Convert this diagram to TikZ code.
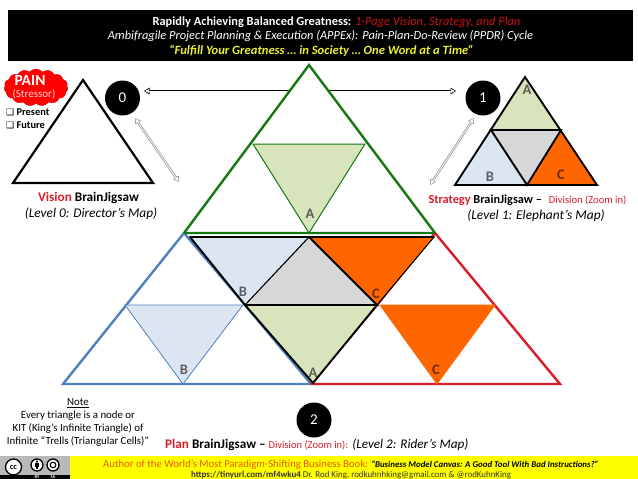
\documentclass[tikz,border=0pt]{standalone}
\usepackage{fontspec}
\setmainfont{Carlito}
\newfontfamily\sym{DejaVu Sans}
\usetikzlibrary{arrows.meta,shapes.symbols,calc}
\definecolor{hgreen}{RGB}{20,120,20}
\definecolor{lgreen}{RGB}{215,228,188}
\definecolor{lblue}{RGB}{220,230,242}
\definecolor{mblue}{RGB}{79,129,189}
\definecolor{orng}{RGB}{255,102,0}
\definecolor{gry}{RGB}{215,215,215}
\definecolor{rd}{RGB}{215,30,40}
\definecolor{yel}{RGB}{255,255,0}
\definecolor{hy}{RGB}{235,240,50}
\definecolor{hr}{RGB}{200,20,20}
\tikzset{
 x=1pt,y=-1pt,
 txt/.style={inner sep=0pt,align=center},
 tl/.style={txt,text=black,text opacity=.58,font=\fontsize{14.5}{14.5}\selectfont\bfseries},
 num/.style={circle,fill=black,minimum size=35pt,inner sep=0pt,text=white,font=\fontsize{15}{15}\selectfont},
 big/.style={line width=2.4pt,line join=miter},
 thk/.style={line width=1.9pt,line cap=round},
 thn/.style={line width=1.1pt,line cap=round},
 arrowout/.style={line width=2.4pt,draw=#1,{Triangle[length=5.5pt,width=6.5pt]}-{Triangle[length=5.5pt,width=6.5pt]}},
 arrowin/.style={line width=.7pt,draw=#1,shorten >=1.2pt,shorten <=1.2pt,{Triangle[length=3.6pt,width=3.6pt]}-{Triangle[length=3.6pt,width=3.6pt]}},
 ic/.style={circle,draw=black,fill=white,line width=1.3pt,inner sep=0pt},
}
\begin{document}
\begin{tikzpicture}
\useasboundingbox (0,0) rectangle (638,479);
\fill[white] (0,0) rectangle (638,479);
% header
\node[fill=black,minimum width=625pt,minimum height=51pt,inner sep=0pt,anchor=north west] (hdr) at (8,10) {};
\node[txt,text=white,font=\fontsize{12.4}{12.4}\selectfont] (h1) at (336.5,22.5) {\textbf{Rapidly Achieving Balanced Greatness:} \textcolor{hr}{\textit{1-Page Vision, Strategy, and Plan}}};
\node[txt,text=white,font=\fontsize{12.4}{12.4}\selectfont\itshape] (h2) at (320.5,36.5) {Ambifragile Project Planning \& Execution (APPEx): Pain-Plan-Do-Review (PPDR) Cycle};
\node[txt,text=hy,font=\fontsize{12.6}{12.6}\selectfont\bfseries\itshape] (h3) at (321.5,51) {“Fulfill Your Greatness … in Society … One Word at a Time”};
% long arrow behind the triangle
\coordinate (a0) at (144,91); \coordinate (a1) at (456,91);
\draw[arrowout=black] (a0) -- (a1);
\draw[arrowin=white] (a0) -- (a1);
% plan triangles
\coordinate (T) at (309,65); \coordinate (L) at (184,233); \coordinate (R) at (435,233); \coordinate (M) at (309,233);
\coordinate (BL) at (63,384); \coordinate (BM) at (183,384); \coordinate (BA) at (311,384);
\coordinate (RM) at (437,384); \coordinate (RR) at (560,384);
% green
\draw[hgreen,big,fill=white] (T) -- (R) -- (L) -- cycle;
\draw[hgreen,line width=1pt,fill=lgreen] (253,144) -- (365,144) -- (M) -- cycle;
% blue
\draw[mblue,big] (L) -- (BL) -- (BA);
\draw[mblue,big] (L) -- (245,305) -- (BA);
\draw[mblue,line width=.8pt,fill=lblue] (125,305) -- (243,305) -- (BM) -- cycle;
% red
\draw[rd,big] (R) -- (RR) -- (BA);
\draw[rd,big] (R) -- (377,305) -- (BA);
\draw[orng,line width=.8pt,fill=orng] (380,305) -- (495,305) -- (RM) -- cycle;
% centre jigsaw
\coordinate (c1) at (190,237); \coordinate (c2) at (309,237); \coordinate (c3) at (434,237);
\coordinate (c4) at (245,305); \coordinate (c5) at (377,305); \coordinate (c6) at (313,383);
\fill[lblue] (c1) -- (c2) -- (c4) -- cycle;
\fill[gry] (c2) -- (c5) -- (c4) -- cycle;
\fill[orng] (c2) -- (c3) -- (c5) -- cycle;
\fill[lgreen] (c4) -- (c5) -- (c6) -- cycle;
\draw[black,thk] (c1) -- (c3);
\draw[black,thk] (c1) -- (c4) -- (c5) -- (c2);
\draw[black,thk] (c4) -- (c6) -- (c5);
\draw[black,thn] (c2) -- (c4);
\draw[black,thn] (c3) -- (c5);
\draw[hgreen,big] (L) -- (R);
\node[tl] (la) at (310,214) {A};
\node[tl] (lb) at (243,292) {B};
\node[tl] (lc) at (376,294) {C};
\node[tl] (la2) at (313,373) {A};
\node[tl] (lb2) at (184,370) {B};
\node[tl] (lc2) at (436,370) {C};
% left triangle
\coordinate (v1) at (83,80); \coordinate (v2) at (13,183); \coordinate (v3) at (153,183);
\draw[black,line width=2.2pt] (v1) -- (v3) -- (v2) -- cycle;
% right triangle
\coordinate (s1) at (525,77); \coordinate (s2) at (455,185); \coordinate (s3) at (597,185);
\coordinate (s4) at (491,130); \coordinate (s5) at (561,130); \coordinate (s6) at (527,185);
\fill[lgreen] (s1) -- (s5) -- (s4) -- cycle;
\fill[lblue] (s4) -- (s6) -- (s2) -- cycle;
\fill[gry] (s4) -- (s5) -- (s6) -- cycle;
\fill[orng] (s5) -- (s3) -- (s6) -- cycle;
\draw[black,line width=1.9pt,line join=miter] (s1) -- (s3) -- (s2) -- cycle;
\draw[black,line width=1.9pt] (s4) -- (s5) -- (s6) -- cycle;
\node[tl] (sa) at (527,90) {A};
\node[tl] (sb) at (490,177) {B};
\node[tl] (sc) at (561,175) {C};
% number circles
\node[num] (n0) at (122.5,98) {0};
\node[num] (n1) at (483,98) {1};
\node[num] (n2) at (314,420) {2};
% grey arrows
\coordinate (g0a) at (135,118); \coordinate (g0b) at (179,182);
\coordinate (g1a) at (474,118); \coordinate (g1b) at (430,185);
\draw[arrowout=gray!75] (g0a) -- (g0b);
\draw[arrowin=white] (g0a) -- (g0b);
\draw[arrowout=gray!75] (g1a) -- (g1b);
\draw[arrowin=white] (g1a) -- (g1b);
% pain
\node[cloud,cloud puffs=15,cloud puff arc=100,aspect=1.75,fill=red,draw=red!85!black,line width=.4pt,minimum width=64pt,minimum height=37pt,inner sep=0pt] (cl) at (36,87.5) {};
\node[txt,text=white,font=\fontsize{15.5}{15.5}\selectfont\bfseries] (pain) at (30,80) {PAIN};
\node[txt,text=white!85!red,font=\fontsize{11}{11}\selectfont] (str) at (34,94.7) {(Stressor)};
\node[txt,anchor=west,font=\fontsize{10.4}{10.4}\selectfont\bfseries] (pr) at (6,112.5) {{\sym\fontsize{9}{9}\selectfont ❑} Present};
\node[txt,anchor=west,font=\fontsize{10.4}{10.4}\selectfont\bfseries] (fu) at (6,125.5) {{\sym\fontsize{9}{9}\selectfont ❑} Future};
% captions
\node[txt,font=\fontsize{13.2}{13.2}\selectfont\bfseries] (c0a) at (88.5,198) {\textcolor{rd}{Vision} BrainJigsaw};
\node[txt,font=\fontsize{13.3}{13.3}\selectfont\itshape] (c0b) at (91,214) {(Level 0: Director’s Map)};
\node[txt,font=\fontsize{12.3}{12.3}\selectfont] (c1a) at (527.5,200.5) {\textbf{\textcolor{rd}{Strategy} BrainJigsaw –}\,\, \textcolor{rd}{\fontsize{10.6}{10.6}\selectfont Division (Zoom in)}};
\node[txt,font=\fontsize{13.4}{13.4}\selectfont\itshape] (c1b) at (536,216) {(Level 1: Elephant’s Map)};
\node[txt,font=\fontsize{10.85}{13}\selectfont] (note) at (78,422.5) {\underline{Note}\\Every triangle is a node or\\KIT (King’s Infinite Triangle) of\\Infinite “Trells (Triangular Cells)”};
\node[txt,anchor=west,font=\fontsize{13.2}{13.2}\selectfont] (c2) at (165,445) {\textbf{\textcolor{rd}{Plan} BrainJigsaw –} \textcolor{rd}{\fontsize{10.5}{10.5}\selectfont Division (Zoom in):} \textit{(Level 2: Rider’s Map)}};
% footer
\node[fill=yel,minimum width=568pt,minimum height=23pt,inner sep=0pt,anchor=north west] (ft) at (70,456) {};
\node[fill=gray!55,minimum width=70pt,minimum height=23pt,inner sep=0pt,anchor=north west] (cc) at (0,456) {};
\fill[black] (0,475) rectangle (70,479);
\node[ic,minimum size=16pt,font=\fontsize{8.5}{8.5}\selectfont\bfseries] (ic1) at (13.5,467) {cc};
\node[ic,minimum size=12pt] (ic2) at (37,465) {};
\fill[black] (37,461.6) circle (1.2);
\fill[black] (35.4,463.4) rectangle (38.6,466.6);
\fill[black] (36.2,466.6) rectangle (37.8,469);
\node[ic,minimum size=12pt] (ic3) at (53,465) {};
\draw[black,line width=1.1pt] (53,465) circle (2.8);
\node[txt,text=white,font=\fontsize{4.5}{4.5}\selectfont\bfseries] (by) at (37,477) {BY};
\node[txt,text=white,font=\fontsize{4.5}{4.5}\selectfont\bfseries] (sa2) at (53,477) {SA};
\node[txt,anchor=west,font=\fontsize{10.7}{10.7}\selectfont] (f1) at (103,464.5) {\textcolor{orng!90!black}{Author of the World’s Most Paradigm-Shifting Business Book:} \textbf{\textit{\fontsize{8.85}{8.85}\selectfont “Business Model Canvas: A Good Tool With Bad Instructions?”}}};
\node[txt,anchor=west,font=\fontsize{8.9}{8.9}\selectfont,text=black!80] (f2) at (191,475.5) {\textbf{https://tinyurl.com/mf4wku4} Dr. Rod King, rodkuhnhking@gmail.com \& @rodKuhnKing};
\end{tikzpicture}
\end{document}
